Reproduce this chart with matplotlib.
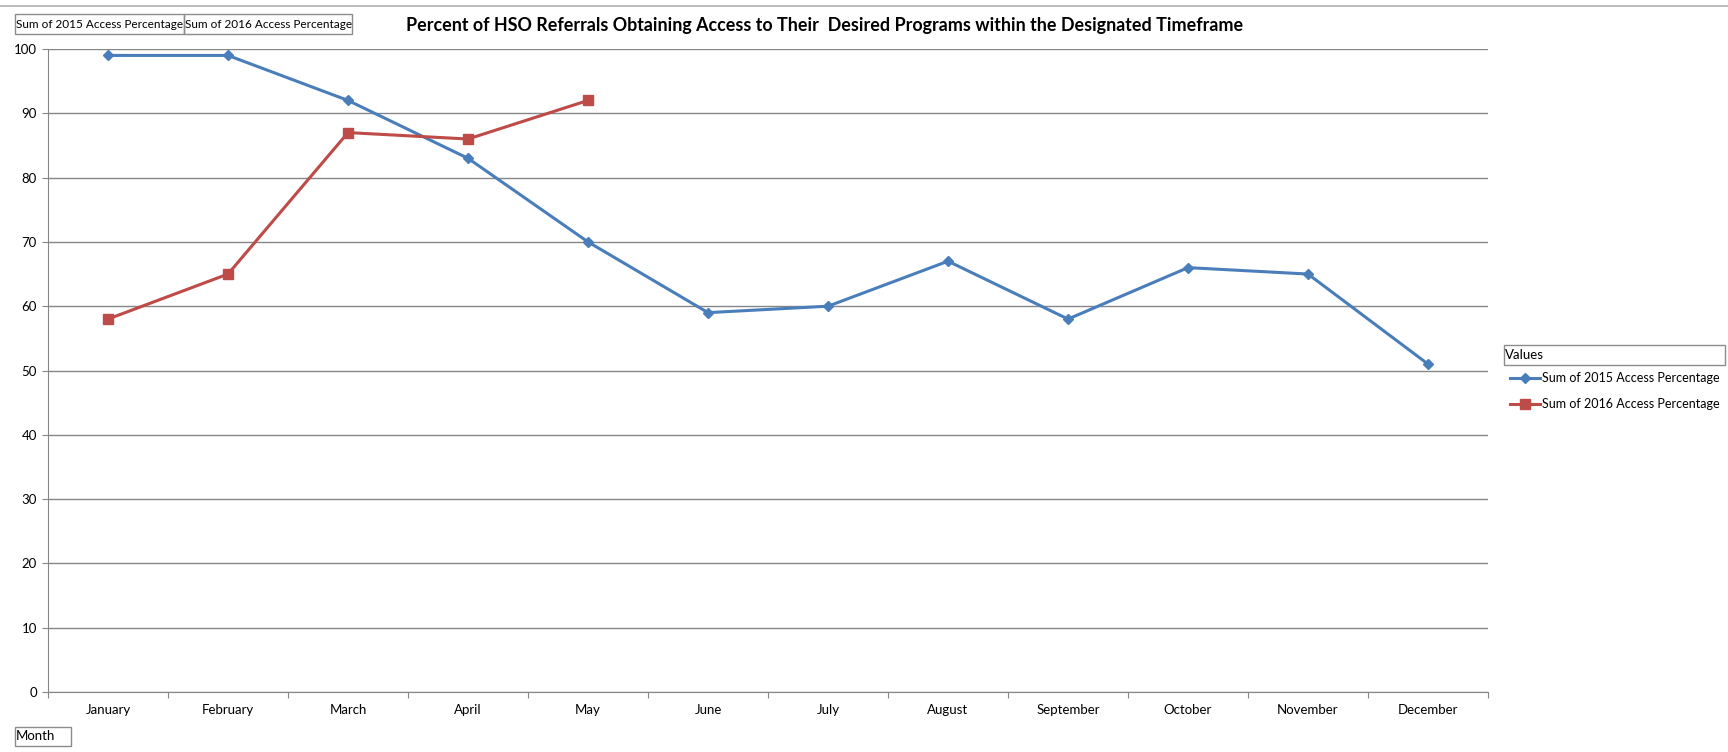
import matplotlib
matplotlib.use("Agg")
import matplotlib.pyplot as plt
from matplotlib.patches import Rectangle
from matplotlib.lines import Line2D

# data
months = ["January", "February", "March", "April", "May", "June", "July",
          "August", "September", "October", "November", "December"]
access_2015 = [99, 99, 92, 83, 70, 59, 60, 67, 58, 66, 65, 51]
access_2016 = [58, 65, 87, 86, 92]
label_2015 = "Sum of 2015 Access Percentage"
label_2016 = "Sum of 2016 Access Percentage"
title = "Percent of HSO Referrals Obtaining Access to Their  Desired Programs within the Designated Timeframe"

W, H = 1728, 752
plt.rcParams["font.family"] = ["Lato", "DejaVu Sans"]

fig = plt.figure(figsize=(W / 100, H / 100), dpi=100)


def fx(x):
    return x / W


def fy(y):
    return 1 - y / H


blue = "#4A7EBB"
red = "#BE4B48"
grid = "#868686"

ax = fig.add_axes([fx(48), fy(692), fx(1488 - 48), (692 - 49) / H])
xs = [i + 0.5 for i in range(len(months))]
ax.plot(xs, access_2015, color=blue, lw=2.2, marker="D", ms=5.5, label=label_2015)
ax.plot(xs[:len(access_2016)], access_2016, color=red, lw=2.2, marker="s", ms=7,
        label=label_2016)

ax.set_xlim(0, 12)
ax.set_ylim(0, 100)
ax.set_yticks(range(0, 101, 10))
ax.set_xticks(range(0, 13))
ax.set_xticklabels([])
ax.set_xticks(xs, minor=True)
ax.set_xticklabels(months, minor=True)
ax.tick_params(axis="x", which="minor", length=0, pad=9, labelsize=9.5, colors="black")
ax.tick_params(axis="x", which="major", length=4, color=grid)
ax.tick_params(axis="y", length=4, color=grid, labelsize=9.5, pad=4)
ax.yaxis.grid(True, color=grid, lw=1)
ax.set_axisbelow(True)
for s in ["top", "right"]:
    ax.spines[s].set_visible(False)
for s in ["left", "bottom"]:
    ax.spines[s].set_color(grid)

# top separator line
fig.add_artist(Line2D([0, 1], [fy(6), fy(6)], color="#b0b0b0", lw=1.2))

fig.text(fx(825), fy(26), title, ha="center", va="center", fontsize=12.9,
         fontweight="bold")


def button(x0, y0, x1, y1, text, size=8.5):
    fig.add_artist(Rectangle((fx(x0), fy(y1)), fx(x1 - x0), (y1 - y0) / H,
                             fill=False, ec="#8c8c8c", lw=1))
    fig.text(fx(x0 + 1), fy((y0 + y1) / 2), text, ha="left", va="center", fontsize=size)


button(15, 14, 184, 34, label_2015)
button(184, 14, 352, 34, label_2016)
button(15, 727, 71, 746, "Month", 9.5)
button(1504, 345, 1725, 365, "Values", 9.5)

h1 = Line2D([], [], color=blue, lw=2.2, marker="D", ms=5.5)
h2 = Line2D([], [], color=red, lw=2.2, marker="s", ms=7)
fig.legend([h1, h2], [label_2015, label_2016], loc="upper left",
           bbox_to_anchor=(fx(1500), fy(362)), frameon=False, fontsize=9,
           handlelength=2.4, handletextpad=0.15, labelspacing=1.15, borderpad=0.3)

fig.savefig("out.png", dpi=100)
